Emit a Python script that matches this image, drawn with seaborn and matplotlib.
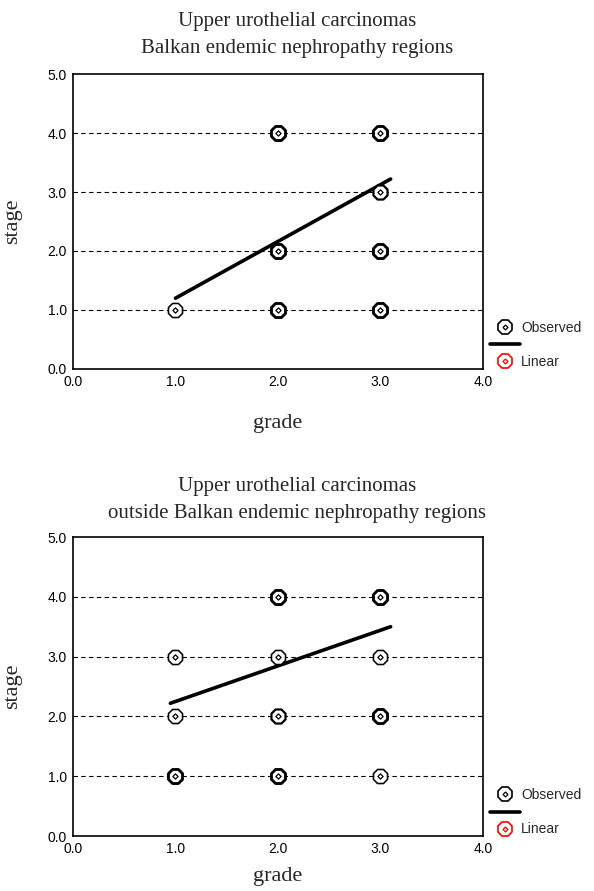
import numpy as np
import pandas as pd
import seaborn as sns
import matplotlib.pyplot as plt
from matplotlib.lines import Line2D

# ---- data ----
titles = ["Upper urothelial carcinomas\nBalkan endemic nephropathy regions",
          "Upper urothelial carcinomas\noutside Balkan endemic nephropathy regions"]

ben_grade = [1, 2, 3, 2, 3, 3, 2, 3]
ben_stage = [1, 1, 1, 2, 2, 3, 4, 4]
ben_cases = [1, 3, 3, 3, 3, 2, 3, 3]        # overplotting guess (edge thickness)
ben_fit_x = [1.0, 3.1]
ben_fit_y = [1.2, 3.22]

out_grade = [1, 2, 3, 1, 2, 3, 1, 2, 3, 2, 3]
out_stage = [1, 1, 1, 2, 2, 2, 3, 3, 3, 4, 4]
out_cases = [3, 3, 1, 1, 2, 3, 1, 1, 1, 3, 3]
out_fit_x = [0.95, 3.1]
out_fit_y = [2.22, 3.5]

ticks = [0.0, 1.0, 2.0, 3.0, 4.0, 5.0]

sns.set_theme(style="white")
plt.rcParams["font.family"] = ["Liberation Sans", "DejaVu Sans"]

fig = plt.figure(figsize=(5.94, 8.91), dpi=100)
ax_top = fig.add_axes([0.1229, 0.5859, 0.690, 0.331])
ax_bot = fig.add_axes([0.1229, 0.0617, 0.690, 0.3356])


def draw_panel(ax, grade, stage, cases, fit_x, fit_y):
    df = pd.DataFrame({"grade": grade, "stage": stage, "cases": cases})
    for y in ticks[1:-1]:
        ax.axhline(y, color="black", lw=0.8, ls=(0, (4, 3)), zorder=1)
    fit = pd.DataFrame({"grade": fit_x, "stage": fit_y})
    sns.lineplot(data=fit, x="grade", y="stage", color="black", lw=2.6,
                 ax=ax, zorder=3)
    for lw_val, sub in df.groupby("cases"):
        sns.scatterplot(data=sub, x="grade", y="stage", marker="8", s=120,
                        facecolor="white", edgecolor="black",
                        linewidth=0.7 + 0.45 * lw_val, ax=ax, zorder=4)
    sns.scatterplot(data=df, x="grade", y="stage", marker="D", s=7,
                    facecolor="white", edgecolor="black", linewidth=0.9,
                    ax=ax, zorder=5)
    ax.set_xlim(0, 4)
    ax.set_ylim(0, 5)
    ax.set_xticks(ticks[:-1])
    ax.set_yticks(ticks)
    ax.set_xticklabels([f"{t:.1f}" for t in ticks[:-1]])
    ax.set_yticklabels([f"{t:.1f}" for t in ticks])
    ax.tick_params(axis="both", labelsize=10, length=3, width=2,
                   direction="inout", colors="black", pad=3)
    for sp in ax.spines.values():
        sp.set_color("black")
        sp.set_linewidth(1.2)
    ax.set_xlabel("grade", family="Liberation Serif", fontsize=16, labelpad=18)
    ax.set_ylabel("stage", family="Liberation Serif", fontsize=16, labelpad=18)

    def octo(col):
        return (Line2D([], [], ls="none", marker="8", ms=11, mfc="white", mec=col, mew=1.2),
                Line2D([], [], ls="none", marker="D", ms=2.5, mfc="white", mec=col, mew=0.9))

    handles = [octo("black"), Line2D([], [], color="black", lw=2.6), octo("red")]
    ax.legend(handles, ["Observed", "", "Linear"], loc="lower left",
              bbox_to_anchor=(1.005, -0.02), frameon=False, fontsize=10,
              handlelength=2.1, handletextpad=0.1, labelspacing=0.22,
              borderaxespad=0)


draw_panel(ax_top, ben_grade, ben_stage, ben_cases, ben_fit_x, ben_fit_y)
draw_panel(ax_bot, out_grade, out_stage, out_cases, out_fit_x, out_fit_y)
ax_bot.xaxis.labelpad = 8

fig.text(0.5, 0.961, titles[0], ha="center", va="center",
         family="Liberation Serif", fontsize=15, linespacing=1.6)
fig.text(0.5, 0.4385, titles[1], ha="center", va="center",
         family="Liberation Serif", fontsize=15, linespacing=1.6)

fig.savefig("out.png", dpi=100)
